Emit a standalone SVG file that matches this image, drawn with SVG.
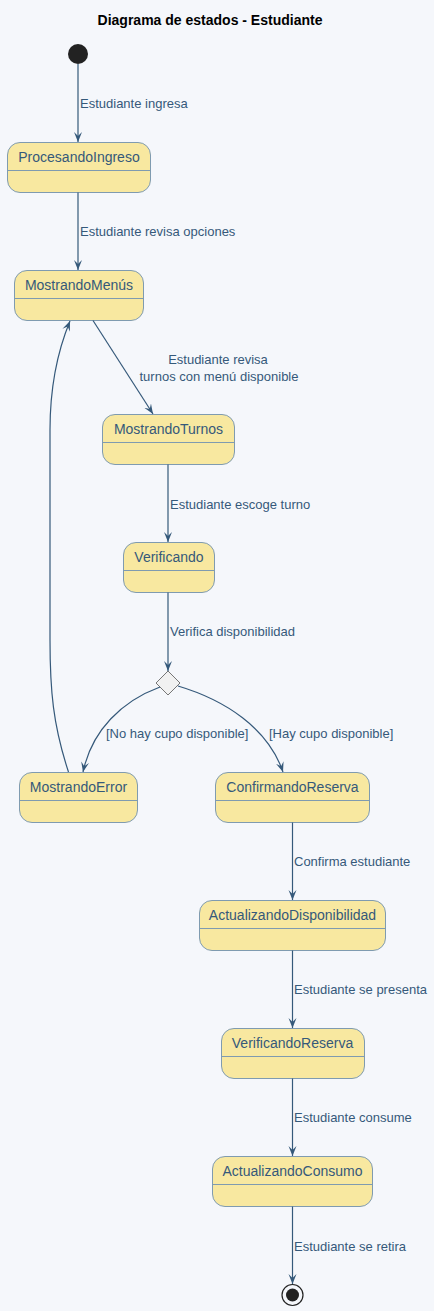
<svg xmlns="http://www.w3.org/2000/svg" width="434" height="1311" viewBox="0 0 434 1311">
<style>
.st rect{fill:#F8E8A0;stroke:#7F9BB0;stroke-width:1}
.st line{stroke:#7F9BB0;stroke-width:1}
.nm{font-family:"Liberation Sans",Arial,sans-serif;font-size:14px;fill:#35597A;text-anchor:middle}
.lb{font-family:"Liberation Sans",Arial,sans-serif;font-size:13px;fill:#35597A}
.ed{fill:none;stroke:#35597A;stroke-width:1.2}
.title{font-family:"Liberation Sans",Arial,sans-serif;font-size:14px;font-weight:bold;fill:#000;text-anchor:middle}
</style>
<defs>
<marker id="ah" viewBox="0 0 10 10" refX="10" refY="5" markerWidth="10" markerHeight="10" markerUnits="userSpaceOnUse" orient="auto">
<path d="M0,1 L10,5 L0,9 L4,5 Z" fill="#35597A"/>
</marker>
</defs>
<rect width="434" height="1311" fill="#F5F7FB"/>
<text class="title" x="210" y="25">Diagrama de estados - Estudiante</text>

<g id="start"><circle cx="78" cy="54" r="10" fill="#222222"/></g>

<g id="ProcesandoIngreso" class="st">
<rect x="7.5" y="142.5" width="143" height="50" rx="12.5"/>
<line x1="7.5" y1="170.5" x2="150.5" y2="170.5"/>
<text class="nm" x="79" y="162">ProcesandoIngreso</text>
</g>
<g id="MostrandoMenus" class="st">
<rect x="14.5" y="270.5" width="129" height="50" rx="12.5"/>
<line x1="14.5" y1="298.5" x2="143.5" y2="298.5"/>
<text class="nm" x="79" y="290">MostrandoMenús</text>
</g>
<g id="MostrandoTurnos" class="st">
<rect x="102.5" y="414.5" width="132" height="50" rx="12.5"/>
<line x1="102.5" y1="442.5" x2="234.5" y2="442.5"/>
<text class="nm" x="168.5" y="434">MostrandoTurnos</text>
</g>
<g id="Verificando" class="st">
<rect x="123.5" y="542.5" width="91" height="50" rx="12.5"/>
<line x1="123.5" y1="570.5" x2="214.5" y2="570.5"/>
<text class="nm" x="169" y="562">Verificando</text>
</g>
<g id="choice"><polygon points="168,671 180,683 168,695 156,683" fill="#F1F1F1" stroke="#555555" stroke-width="0.8"/></g>
<g id="MostrandoError" class="st">
<rect x="19.5" y="772.5" width="118" height="50" rx="12.5"/>
<line x1="19.5" y1="800.5" x2="137.5" y2="800.5"/>
<text class="nm" x="78.5" y="792">MostrandoError</text>
</g>
<g id="ConfirmandoReserva" class="st">
<rect x="215.5" y="772.5" width="154" height="50" rx="12.5"/>
<line x1="215.5" y1="800.5" x2="369.5" y2="800.5"/>
<text class="nm" x="292.5" y="792">ConfirmandoReserva</text>
</g>
<g id="ActualizandoDisponibilidad" class="st">
<rect x="199.5" y="900.5" width="186" height="50" rx="12.5"/>
<line x1="199.5" y1="928.5" x2="385.5" y2="928.5"/>
<text class="nm" x="292.5" y="920">ActualizandoDisponibilidad</text>
</g>
<g id="VerificandoReserva" class="st">
<rect x="221.5" y="1028.5" width="143" height="50" rx="12.5"/>
<line x1="221.5" y1="1056.5" x2="364.5" y2="1056.5"/>
<text class="nm" x="292.5" y="1048">VerificandoReserva</text>
</g>
<g id="ActualizandoConsumo" class="st">
<rect x="212.5" y="1156.5" width="160" height="50" rx="12.5"/>
<line x1="212.5" y1="1184.5" x2="372.5" y2="1184.5"/>
<text class="nm" x="292.5" y="1176">ActualizandoConsumo</text>
</g>
<g id="end">
<circle cx="292.5" cy="1295" r="10.5" fill="none" stroke="#222222" stroke-width="1.2"/>
<circle cx="292.5" cy="1295" r="6.5" fill="#222222"/>
</g>

<g id="connectors">
<path class="ed" d="M78,64 L78,142" marker-end="url(#ah)"/>
<text class="lb" x="80" y="108">Estudiante ingresa</text>
<path class="ed" d="M78,192.5 L78,270" marker-end="url(#ah)"/>
<text class="lb" x="80" y="236">Estudiante revisa opciones</text>
<path class="ed" d="M93,320.5 L153,414" marker-end="url(#ah)"/>
<text class="lb" x="218" y="364" text-anchor="middle">Estudiante revisa</text>
<text class="lb" x="219" y="381" text-anchor="middle">turnos con menú disponible</text>
<path class="ed" d="M168,464.5 L168,542" marker-end="url(#ah)"/>
<text class="lb" x="170" y="509">Estudiante escoge turno</text>
<path class="ed" d="M168,592.5 L168,671" marker-end="url(#ah)"/>
<text class="lb" x="170" y="636">Verifica disponibilidad</text>
<path class="ed" d="M160,687 C122,701 92,730 83,772" marker-end="url(#ah)"/>
<text class="lb" x="106" y="738">[No hay cupo disponible]</text>
<path class="ed" d="M178,686 C225,700 268,728 283,772" marker-end="url(#ah)"/>
<text class="lb" x="269" y="738">[Hay cupo disponible]</text>
<path class="ed" d="M68.5,772 C53,725 50,690 50,640 L50,430 C50,385 58,350 70,321" marker-end="url(#ah)"/>
<path class="ed" d="M292.5,822.5 L292.5,900" marker-end="url(#ah)"/>
<text class="lb" x="294" y="866">Confirma estudiante</text>
<path class="ed" d="M292.5,950.5 L292.5,1028" marker-end="url(#ah)"/>
<text class="lb" x="294" y="994">Estudiante se presenta</text>
<path class="ed" d="M292.5,1078.5 L292.5,1156" marker-end="url(#ah)"/>
<text class="lb" x="294" y="1122">Estudiante consume</text>
<path class="ed" d="M292.5,1206.5 L292.5,1284" marker-end="url(#ah)"/>
<text class="lb" x="294" y="1251">Estudiante se retira</text>
</g>
</svg>
